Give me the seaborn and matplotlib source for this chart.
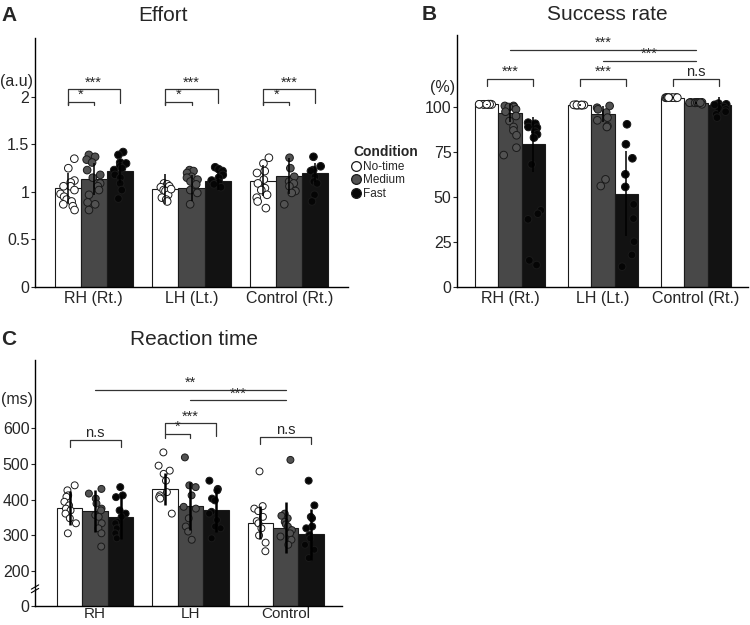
"""
Three-panel bar + strip chart: Effort, Success rate and Reaction time
for the No-time / Medium / Fast conditions.
Saves the figure as out.png.
"""

import matplotlib
matplotlib.use("Agg")  # no display, write to file
import matplotlib.pyplot as plt
from matplotlib.lines import Line2D
import numpy as np
import pandas as pd
import seaborn as sns

CONDITIONS = ["No-time", "Medium", "Fast"]
GROUPS_AB = ["RH (Rt.)", "LH (Lt.)", "Control (Rt.)"]
GROUPS_C = ["RH", "LH", "Control"]

BAR_COLORS = {"No-time": "#ffffff", "Medium": "#484848", "Fast": "#121212"}
DOT_COLORS = {"No-time": "#ffffff", "Medium": "#525252", "Fast": "#050505"}

# ---------- A. Effort (a.u) : one row per group, columns No-time / Medium / Fast ----------
effort_mean = [[1.04, 1.14, 1.22], [1.03, 1.04, 1.12], [1.12, 1.17, 1.20]]
effort_sd = [[0.16, 0.17, 0.13], [0.16, 0.14, 0.10], [0.16, 0.19, 0.10]]
effort_points = [
    [[1.35, 1.25, 1.12, 1.10, 1.06, 1.06, 1.02, 0.98, 0.95, 0.92, 0.90, 0.87, 0.85, 0.81],
     [1.39, 1.37, 1.34, 1.31, 1.23, 1.18, 1.15, 1.09, 1.06, 1.02, 0.97, 0.89, 0.87, 0.81],
     [1.42, 1.39, 1.31, 1.30, 1.27, 1.23, 1.18, 1.15, 1.09, 1.02, 0.93, 1.25]],
    [[1.09, 1.08, 1.06, 1.05, 1.02, 1.01, 0.97, 0.94, 0.92, 0.90, 1.03],
     [1.23, 1.22, 1.20, 1.16, 1.15, 1.13, 1.11, 1.08, 1.02, 0.99, 0.87],
     [1.26, 1.24, 1.22, 1.18, 1.15, 1.12, 1.10, 1.08, 1.05]],
    [[1.36, 1.30, 1.22, 1.20, 1.13, 1.09, 1.04, 1.02, 0.97, 0.94, 0.90, 0.83],
     [1.36, 1.25, 1.16, 1.11, 1.09, 1.06, 1.01, 0.99, 0.87],
     [1.37, 1.27, 1.23, 1.22, 1.16, 1.11, 1.09, 0.97, 0.90]],
]

# ---------- B. Success rate (%) ----------
success_mean = [[101.5, 96.5, 79.2], [101.1, 96.2, 51.9], [105.2, 102.4, 101.3]]
success_sd = [[0.3, 5.0, 15.5], [0.3, 4.5, 23.7], [0.4, 0.6, 4.0]]
success_points = [
    [[101.5, 101.5, 101.6, 101.4, 101.5, 101.5, 101.6, 101.4, 101.5, 101.5, 101.5, 101.5],
     [100.6, 100.6, 100.0, 100.0, 98.7, 97.4, 95.0, 92.2, 88.9, 87.0, 84.3, 77.4, 73.3],
     [91.3, 90.7, 88.9, 88.5, 86.3, 84.8, 83.0, 68.1, 42.6, 40.7, 37.6, 14.8, 12.2]],
    [[101.1, 101.1, 101.0, 101.2, 101.1, 101.1, 101.0, 101.2, 101.1, 101.1],
     [100.6, 99.6, 98.7, 96.9, 94.1, 92.6, 89.4, 88.9, 59.8, 56.1],
     [90.4, 79.3, 71.5, 62.6, 55.6, 45.9, 38.0, 25.2, 17.8, 11.3]],
    [[105.2, 105.2, 105.1, 105.3, 105.2, 105.2, 105.1, 105.3, 105.2, 105.2, 105.2],
     [102.6, 102.5, 102.4, 102.5, 102.6, 102.3, 102.4, 102.5, 101.5, 102.5, 102.4],
     [101.9, 101.5, 101.1, 100.6, 100.0, 99.5, 98.7, 97.4, 95.9, 94.1, 101.2]],
]

# ---------- C. Reaction time (ms) ----------
rt_mean = [[377, 368, 352], [430, 381, 370], [336, 322, 303]]
rt_sd = [[48, 58, 62], [45, 67, 60], [45, 72, 72]]
rt_points = [
    [[440, 426, 412, 408, 394, 384, 375, 370, 361, 348, 334, 306],
     [430, 417, 403, 389, 375, 370, 357, 352, 334, 320, 306, 269],
     [435, 412, 407, 370, 361, 352, 338, 334, 320, 306, 292]],
    [[532, 495, 481, 472, 453, 421, 412, 407, 403, 361],
     [518, 440, 435, 412, 380, 375, 348, 325, 311, 288],
     [453, 430, 426, 403, 398, 366, 361, 343, 325, 320, 292]],
    [[479, 382, 375, 368, 352, 340, 334, 320, 300, 280, 256],
     [511, 361, 355, 348, 338, 331, 325, 315, 306, 297, 288, 274],
     [453, 384, 352, 348, 325, 320, 301, 292, 274, 260, 237]],
]


def long_table(groups, values):
    rows = []
    for gi, group in enumerate(groups):
        for ci, cond in enumerate(CONDITIONS):
            vals = values[gi][ci]
            if np.isscalar(vals):
                vals = [vals]
            for v in vals:
                rows.append({"group": group, "condition": cond, "value": v})
    return pd.DataFrame(rows)


def draw_panel(ax, groups, means, sds, points, width, dot_size, err_lw):
    bars = long_table(groups, means)
    sns.barplot(data=bars, x="group", y="value", hue="condition",
                order=groups, hue_order=CONDITIONS, palette=BAR_COLORS,
                saturation=1, width=width, errorbar=None, edgecolor="#1a1a1a",
                linewidth=0.8, legend=False, ax=ax)

    # SD error bars (drawn by hand so they match the picture)
    step = width / len(CONDITIONS)
    for gi in range(len(groups)):
        for ci in range(len(CONDITIONS)):
            x = gi + (ci - 1) * step
            ax.errorbar(x, means[gi][ci], yerr=sds[gi][ci], fmt="none",
                        ecolor="black", elinewidth=err_lw, capsize=0, zorder=4)

    dots = long_table(groups, points)
    sns.stripplot(data=dots, x="group", y="value", hue="condition",
                  order=groups, hue_order=CONDITIONS, palette=DOT_COLORS,
                  dodge=True, jitter=0.22, size=dot_size, edgecolor="#1a1a1a",
                  linewidth=0.7, legend=False, ax=ax, zorder=3)

    ax.set_xlabel("")
    ax.set_ylabel("")
    ax.tick_params(axis="y", length=3, width=0.8, labelsize=11.5, pad=1)
    ax.tick_params(axis="x", length=0, labelsize=11.5, pad=3)
    for side in ["left", "bottom"]:
        ax.spines[side].set_linewidth(1.0)
        ax.spines[side].set_color("black")
    sns.despine(ax=ax)
    return step


def bracket(ax, x1, x2, y, drop1, drop2, text, fs=10.5):
    ax.plot([x1, x1, x2, x2], [y - drop1, y, y, y - drop2],
            color="#333333", lw=0.9, clip_on=False)
    ax.annotate(text, ((x1 + x2) / 2, y), xytext=(0, 0), textcoords="offset points",
                ha="center", va="bottom", fontsize=fs)


def long_line(ax, x1, x2, y, text, fs=10.5):
    ax.plot([x1, x2], [y, y], color="#333333", lw=0.9, clip_on=False)
    ax.annotate(text, ((x1 + x2) / 2, y), xytext=(0, 0), textcoords="offset points",
                ha="center", va="bottom", fontsize=fs)


def main():
    sns.set_theme(style="ticks")
    plt.rcParams["font.family"] = ["Liberation Sans", "DejaVu Sans"]
    np.random.seed(4)  # fixed jitter of the dots

    fig = plt.figure(figsize=(7.5, 6.25), dpi=100)
    ax_a = fig.add_axes([0.0467, 0.5408, 0.4173, 0.3984])
    ax_b = fig.add_axes([0.6093, 0.5408, 0.3880, 0.4032])
    ax_c = fig.add_axes([0.0467, 0.0304, 0.4093, 0.3936])

    # ---------- A. Effort ----------
    s = draw_panel(ax_a, GROUPS_AB, effort_mean, effort_sd, effort_points,
                   width=0.8, dot_size=5.5, err_lw=1.1)
    ax_a.set_xlim(-0.6, 2.6)
    ax_a.set_ylim(0, 2.62)
    ax_a.set_yticks([0, 0.5, 1, 1.5, 2])
    ax_a.set_yticklabels(["0", "0.5", "1", "1.5", "2"])
    ax_a.text(-0.005, 2.16, "(a.u)", transform=ax_a.get_yaxis_transform(),
              ha="right", va="center", fontsize=11.5)
    for g in range(3):
        bracket(ax_a, g - s, g + s, 2.08, 0.17, 0.14, "***")
        bracket(ax_a, g - s, g, 1.95, 0.04, 0.04, "*")

    # ---------- B. Success rate ----------
    s = draw_panel(ax_b, GROUPS_AB, success_mean, success_sd, success_points,
                   width=0.75, dot_size=5.5, err_lw=1.1)
    ax_b.set_xlim(-0.57, 2.56)
    ax_b.set_ylim(0, 140)
    ax_b.set_yticks([0, 25, 50, 75, 100])
    ax_b.text(-0.005, 111, "(%)", transform=ax_b.get_yaxis_transform(),
              ha="right", va="center", fontsize=11.5)
    for g, label in zip(range(3), ["***", "***", "n.s"]):
        bracket(ax_b, g - s, g + s, 115.7, 4.2, 4.2, label)
    long_line(ax_b, 0, 2, 131.9, "***")
    long_line(ax_b, 1, 2, 125.6, "***")

    # ---------- C. Reaction time (broken axis: "0" sits at the bottom) ----------
    s = draw_panel(ax_c, GROUPS_C, rt_mean, rt_sd, rt_points,
                   width=0.8, dot_size=5.0, err_lw=1.8)
    ax_c.tick_params(axis="x", labelsize=11, pad=0.5)
    ax_c.set_xlim(-0.63, 2.59)
    ax_c.set_ylim(103, 790)
    ax_c.set_yticks([103, 200, 300, 400, 500, 600])
    ax_c.set_yticklabels(["0", "200", "300", "400", "500", "600"])
    ax_c.text(-0.005, 679, "(ms)", transform=ax_c.get_yaxis_transform(),
              ha="right", va="center", fontsize=11.5)
    ytr = ax_c.get_yaxis_transform()
    for y0 in [140, 150]:
        ax_c.plot([-0.012, 0.012], [y0, y0 + 12], color="black", lw=0.8,
                  transform=ytr, clip_on=False)
    bracket(ax_c, -s, s, 567, 19, 19, "n.s")
    bracket(ax_c, 1 - s, 1, 584, 11, 11, "*")
    bracket(ax_c, 1 - s, 1 + s, 613, 29, 35, "***")
    bracket(ax_c, 2 - s, 2 + s, 576, 21, 21, "n.s")
    long_line(ax_c, 0, 2, 707, "**")
    long_line(ax_c, 1, 2, 677, "***")

    # ---------- titles and panel letters ----------
    H = 625.0
    fig.text(0.002, 1 - 21 / H, "A", fontsize=15, fontweight="bold", va="baseline")
    fig.text(163 / 750, 1 - 21 / H, "Effort", fontsize=15, ha="center", va="baseline")
    fig.text(422 / 750, 1 - 20 / H, "B", fontsize=15, fontweight="bold", va="baseline")
    fig.text(607 / 750, 1 - 20 / H, "Success rate", fontsize=15, ha="center", va="baseline")
    fig.text(0.002, 1 - 345 / H, "C", fontsize=15, fontweight="bold", va="baseline")
    fig.text(194 / 750, 1 - 345 / H, "Reaction time", fontsize=15, ha="center", va="baseline")

    # ---------- legend between A and B ----------
    handles = [Line2D([], [], marker="o", linestyle="", markersize=7,
                      markerfacecolor=DOT_COLORS[c], markeredgecolor="#1a1a1a",
                      markeredgewidth=0.9) for c in CONDITIONS]
    fig.legend(handles, CONDITIONS, title="Condition", loc="upper left",
               bbox_to_anchor=(347 / 750, 1 - 139 / H), frameon=False,
               fontsize=8.5, handlelength=0.6, handletextpad=0.25,
               labelspacing=0.15, borderpad=0, alignment="left",
               title_fontproperties={"weight": "bold", "size": 10})

    fig.savefig("out.png", dpi=100)
    plt.close(fig)


if __name__ == "__main__":
    main()
